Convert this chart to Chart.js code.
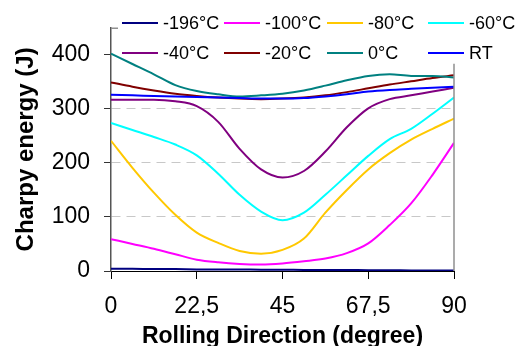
<!DOCTYPE html>
<html lang="en">
<head>
    <meta charset="UTF-8">
    <title>Charpy energy vs rolling direction</title>
    <script src="https://cdn.jsdelivr.net/npm/chart.js@4.4.1/dist/chart.umd.min.js"></script>
    <style>
        body {
            margin: 0;
            background-color: white;
            font-family: "Liberation Sans", Arial, sans-serif;
        }
        .wrap {
            position: relative;
            width: 516px;
            height: 346px;
            overflow: hidden;
        }
        .legend {
            position: absolute;
            left: 122px;
            top: 8px;
            display: grid;
            grid-template-columns: 102px 103px 101px 90px;
            grid-auto-rows: 30px;
            font-size: 18px;
            color: #000;
        }
        .legend div {
            display: flex;
            align-items: center;
            white-space: nowrap;
        }
        .legend span {
            display: inline-block;
            width: 36px;
            height: 2px;
            margin-right: 5px;
        }
    </style>
</head>
<body>
    <div class="wrap">
        <canvas id="chart" width="516" height="346"></canvas>
        <div class="legend" id="legend"></div>
    </div>

    <script>
        // rolling direction (degree)
        const angles = [0, 5.625, 11.25, 16.875, 22.5, 28.125, 33.75, 39.375, 45,
                        50.625, 56.25, 61.875, 67.5, 73.125, 78.75, 84.375, 90];

        const labels = ['-196°C', '-100°C', '-80°C', '-60°C', '-40°C', '-20°C', '0°C', 'RT'];
        const colors = ['#000080', '#ff00ff', '#ffc800', '#00ffff', '#800080', '#800000', '#008080', '#0000ff'];

        // Charpy energy (J)
        const t196 = [4, 4, 3.5, 3.5, 3, 3, 3, 2.5, 2.5, 2, 2, 2, 1.5, 1.5, 1, 1, 1];
        const t100 = [59, 50, 41, 31, 21, 16, 13, 12, 14, 18, 23, 33, 51, 85, 125, 178, 237];
        const t80  = [241, 191, 145, 104, 71, 52, 37, 32, 39, 60, 108, 150, 188, 218, 243, 263, 282];
        const t60  = [274, 261, 248, 234, 214, 180, 141, 110, 94, 108, 141, 177, 213, 244, 263, 291, 321];
        const t40  = [317, 317, 317, 314, 305, 276, 226, 188, 173, 185, 221, 266, 301, 318, 325, 332, 339];
        const t20  = [349, 341, 334, 328, 324, 321, 319, 318, 319, 321, 325, 331, 338, 345, 351, 357, 362];
        const t0   = [402, 383, 364, 344, 333, 327, 323, 325, 328, 334, 343, 353, 361, 364, 361, 361, 358];
        const tRT  = [326, 325, 324, 323, 322, 321, 320, 319, 319, 320, 323, 327, 332, 335, 337, 339, 341];

        const series = [t196, t100, t80, t60, t40, t20, t0, tRT];

        const yTicks = [0, 100, 200, 300, 400];
        const xTicks = [0, 22.5, 45, 67.5, 90];

        // legend as html grid so the columns line up
        const legendEl = document.getElementById('legend');
        labels.forEach((lab, i) => {
            const item = document.createElement('div');
            const line = document.createElement('span');
            line.style.background = colors[i];
            item.appendChild(line);
            item.appendChild(document.createTextNode(lab));
            legendEl.appendChild(item);
        });

        // bits of the plot frame that show around the legend
        const frame = {
            id: 'frame',
            afterDraw(chart) {
                const {ctx, chartArea: a} = chart;
                ctx.save();
                ctx.strokeStyle = '#909090';
                ctx.lineWidth = 1.5;
                ctx.beginPath();
                ctx.moveTo(a.left, a.top + 0.5);
                ctx.lineTo(a.left + 7, a.top + 0.5);
                ctx.moveTo(a.right, a.top + 36);
                ctx.lineTo(a.right, a.bottom);
                ctx.stroke();
                ctx.restore();
            }
        };

        const ctx = document.getElementById('chart').getContext('2d');
        new Chart(ctx, {
            type: 'line',
            data: {
                datasets: series.map((vals, i) => ({
                    label: labels[i],
                    data: angles.map((a, j) => ({x: a, y: vals[j]})),
                    borderColor: colors[i],
                    borderWidth: 2,
                    pointRadius: 0,
                    fill: false,
                    cubicInterpolationMode: 'monotone',
                    order: series.length - i
                }))
            },
            options: {
                responsive: false,
                animation: false,
                layout: {
                    padding: {left: 0, right: 62, top: 27, bottom: 0}
                },
                plugins: {
                    legend: {display: false},
                    tooltip: {enabled: false}
                },
                scales: {
                    x: {
                        type: 'linear',
                        min: 0,
                        max: 90,
                        afterBuildTicks: s => { s.ticks = xTicks.map(v => ({value: v})); },
                        afterFit: s => { s.height = 75; },
                        ticks: {
                            autoSkip: false,
                            maxRotation: 0,
                            padding: 14,
                            color: '#000',
                            font: {family: '"Liberation Sans", Arial', size: 23},
                            callback: v => String(v).replace('.', ',')
                        },
                        grid: {
                            drawOnChartArea: false,
                            tickLength: 8,
                            tickColor: '#000'
                        },
                        border: {color: '#000', width: 1},
                        title: {
                            display: true,
                            text: 'Rolling Direction (degree)',
                            color: '#000',
                            font: {family: '"Liberation Sans", Arial', size: 23, weight: 'bold'},
                            padding: {top: 0, bottom: -4}
                        }
                    },
                    y: {
                        min: 0,
                        max: 450,
                        afterBuildTicks: s => { s.ticks = yTicks.map(v => ({value: v})); },
                        afterFit: s => { s.width = 111; },
                        ticks: {
                            padding: 14,
                            color: '#000',
                            font: {family: '"Liberation Sans", Arial', size: 23}
                        },
                        grid: {
                            tickLength: 7,
                            tickColor: '#333',
                            tickBorderDash: [],
                            color: c => (c.tick && c.tick.value > 0 && c.tick.value < 400) ? '#c8c8c8' : 'rgba(0,0,0,0)'
                        },
                        border: {color: '#555', width: 1.5, dash: [9, 6]},
                        title: {
                            display: true,
                            text: 'Charpy energy (J)',
                            color: '#000',
                            font: {family: '"Liberation Sans", Arial', size: 24, weight: 'bold'},
                            padding: {top: 12, bottom: 0}
                        }
                    }
                }
            },
            plugins: [frame]
        });
    </script>
</body>
</html>
